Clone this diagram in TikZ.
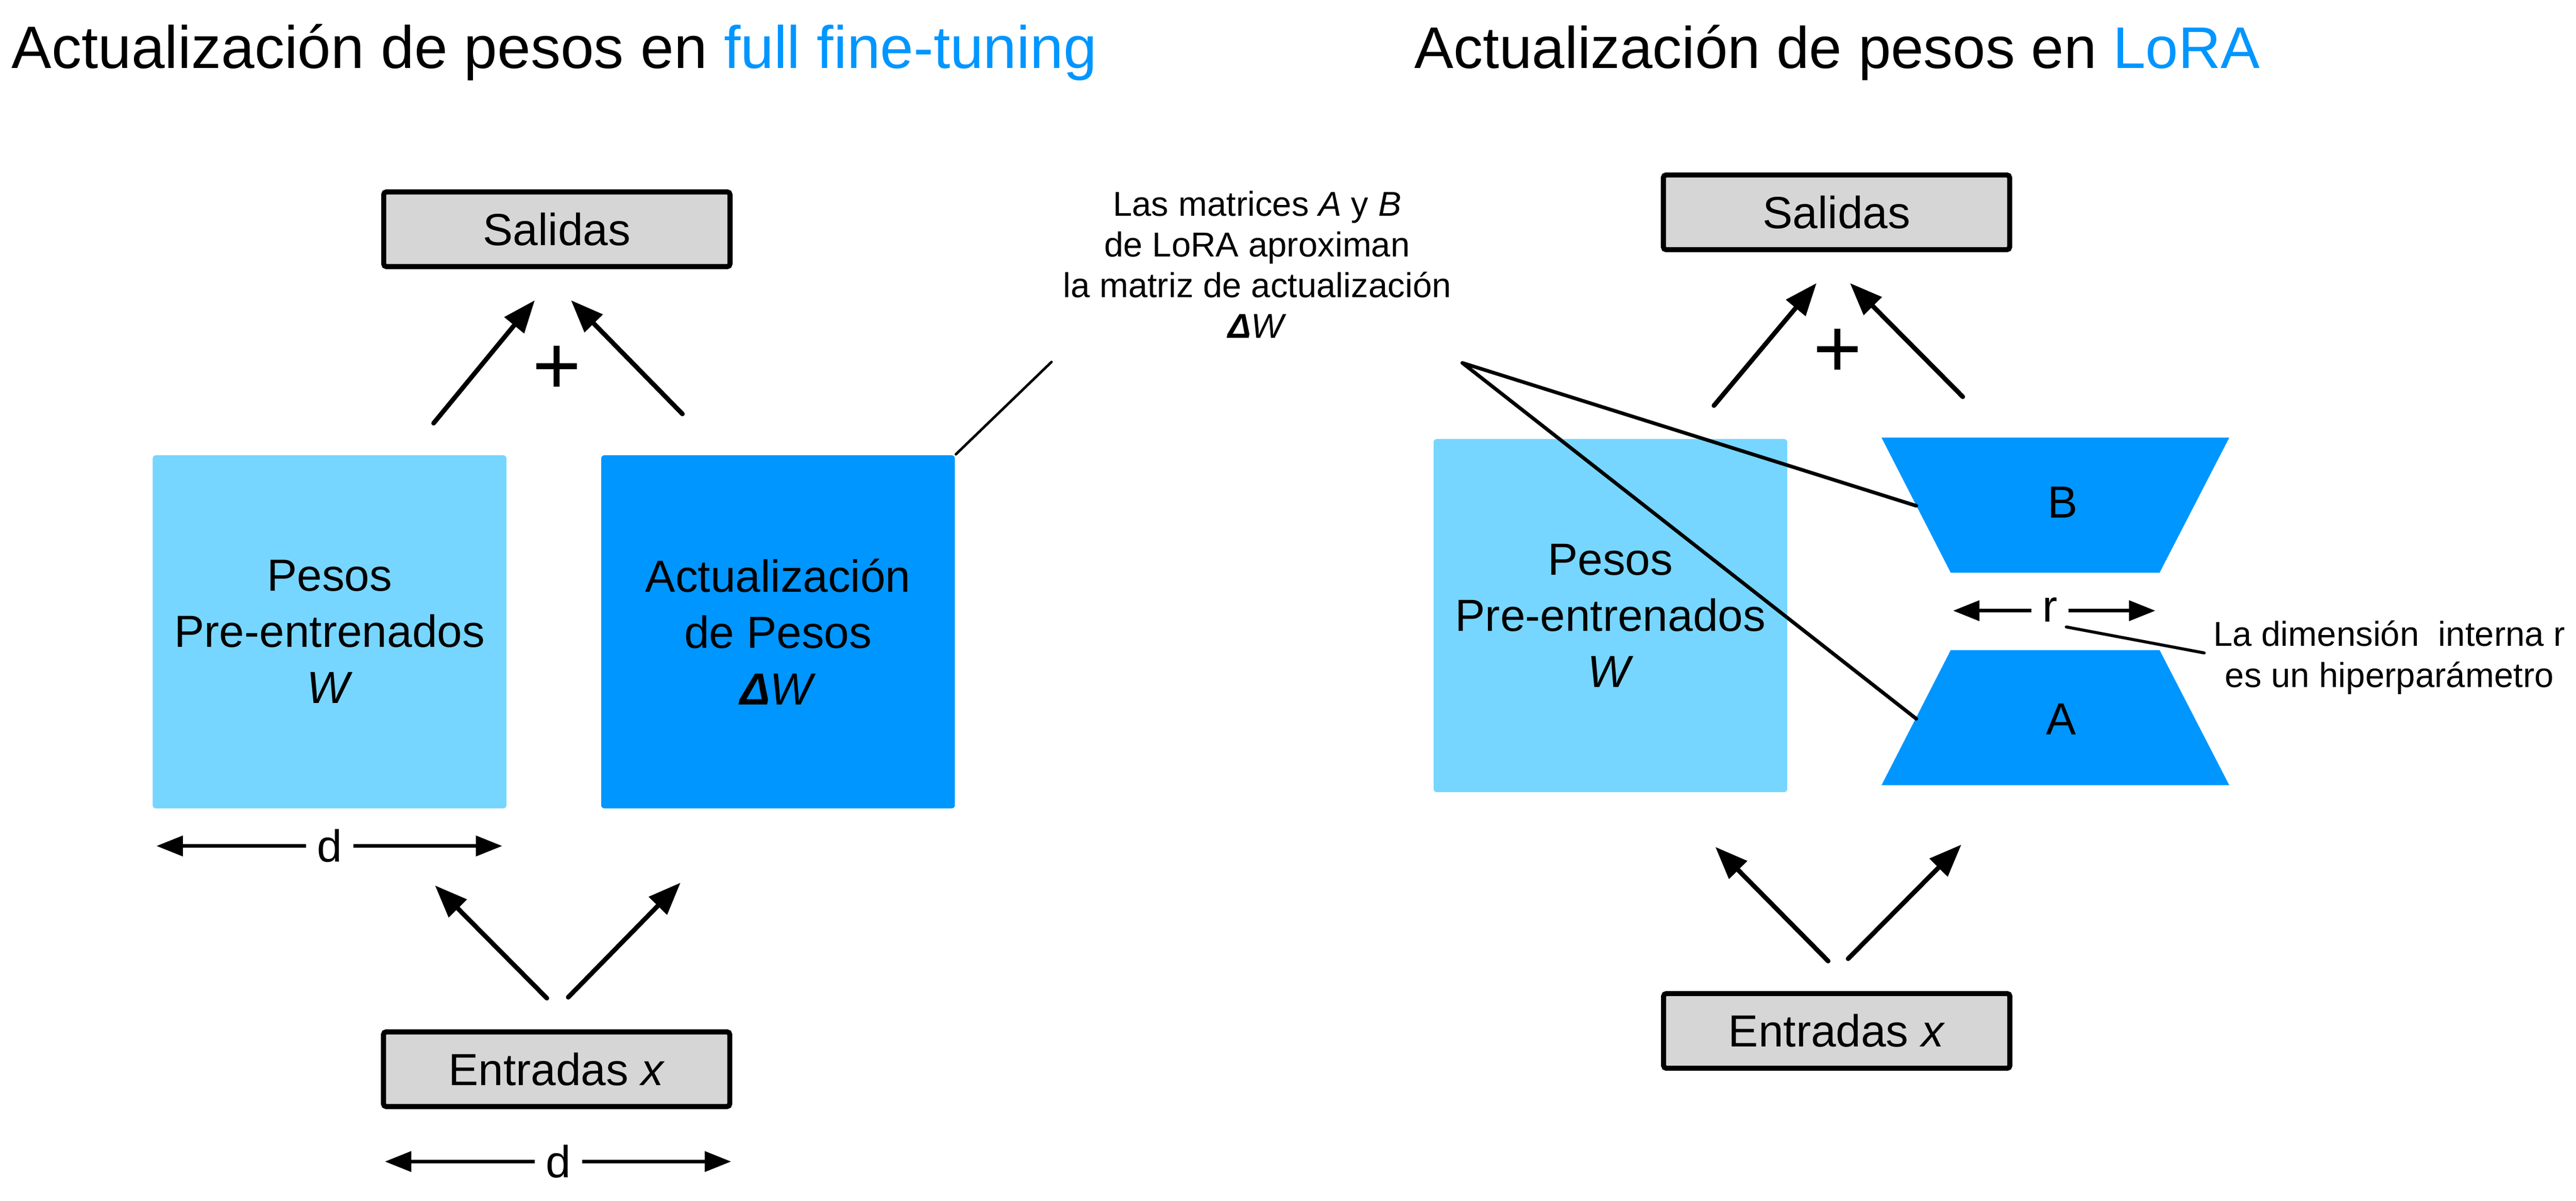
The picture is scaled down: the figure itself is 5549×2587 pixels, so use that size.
\documentclass[tikz,border=0pt]{standalone}
\usepackage{fontspec}
\setmainfont{Liberation Sans}
\usetikzlibrary{arrows.meta}
\definecolor{boxgray}{HTML}{D6D6D6}
\definecolor{skyblue}{HTML}{76D6FF}
\definecolor{aqua}{HTML}{0096FF}
\newcommand{\fsz}[2]{\fontsize{#1}{#2}\selectfont}
\begin{document}
\begin{tikzpicture}[x=0.1pt,y=-0.1pt,
  title/.style={anchor=base west,inner sep=0pt,font=\fsz{12.9}{15}},
  iobox/.style={draw=black,fill=boxgray,line width=1.1pt,rounded corners=0.6pt,minimum width=74.6pt,minimum height=16.1pt,inner sep=0pt,font=\fsz{9.7}{12}},
  wbox/.style={fill=skyblue,rounded corners=0.7pt,minimum width=76.2pt,minimum height=76.1pt,inner sep=0pt,align=center,font=\fsz{9.7}{12.1}},
  dwbox/.style={wbox,fill=aqua},
  flow/.style={-{Triangle[length=7pt,width=5.3pt]},line width=1pt,line cap=round},
  dimline/.style={-{Triangle[length=5.7pt,width=4.3pt]},line width=0.8pt},
  dimlabel/.style={inner xsep=2.2pt,inner ysep=0pt,font=\fsz{9.7}{12}},
  plus/.style={inner sep=0pt,font=\fsz{18}{18}},
  callout/.style={line width=0.6pt,line cap=round,line join=round},
  note/.style={align=center,inner sep=0pt,font=\fsz{7.45}{8.75}},
  lbl/.style={inner sep=0pt,font=\fsz{9.7}{12}},
]
\useasboundingbox (0,0) rectangle (5549,2587);

% titles
\node[title] (t1) at (23,147) {Actualización de pesos en \textcolor{aqua}{full fine-tuning}};
\node[title,font=\fsz{12.65}{15}] (t2) at (3045,147) {Actualización de pesos en \textcolor{aqua}{LoRA}};

% ---------- left panel ----------
\node[iobox] (outL) at (1199.5,494) {Salidas};
\node[wbox] (WL) at (710,1361.5) {Pesos\\Pre-entrenados\\\textit{W}};
\node[dwbox] (dWL) at (1676,1361.5) {Actualización\\de Pesos\\{\bfseries\itshape Δ}\textit{W}};
\node[iobox] (inL) at (1199,2304) {Entradas \textit{x}};
\node[plus] (plusL) at (1199,798) {+};

\coordinate (a1s) at (934,912);   \coordinate (a1e) at (1152,647);
\coordinate (a2s) at (1470,892);  \coordinate (a2e) at (1230,647);
\coordinate (a3s) at (1178,2151); \coordinate (a3e) at (937,1908);
\coordinate (a4s) at (1224,2149); \coordinate (a4e) at (1466,1902);
\draw[flow] (a1s) -- (a1e);
\draw[flow] (a2s) -- (a2e);
\draw[flow] (a3s) -- (a3e);
\draw[flow] (a4s) -- (a4e);

\node[dimlabel] (dtop) at (710,1823) {d};
\coordinate (dtopL) at (337,1823); \coordinate (dtopR) at (1082,1823);
\draw[dimline] (dtop.west) -- (dtopL);
\draw[dimline] (dtop.east) -- (dtopR);
\node[dimlabel] (dbot) at (1203,2503) {d};
\coordinate (dbotL) at (829,2503); \coordinate (dbotR) at (1575,2503);
\draw[dimline] (dbot.west) -- (dbotL);
\draw[dimline] (dbot.east) -- (dbotR);

% ---------- right panel ----------
\node[iobox] (outR) at (3956,457.5) {Salidas};
\node[wbox] (WR) at (3469,1326.5) {Pesos\\Pre-entrenados\\\textit{W}};
\node[iobox] (inR) at (3956.5,2221.5) {Entradas \textit{x}};
\node[plus] (plusR) at (3958,761) {+};

\fill[aqua] (4053,943) -- (4802,943) -- (4652,1234) -- (4202,1234) -- cycle;
\fill[aqua] (4202,1401) -- (4652,1401) -- (4802,1692) -- (4053,1692) -- cycle;
\node[lbl] (Bl) at (4443,1082) {B};
\node[lbl] (Al) at (4440,1550) {A};

\coordinate (b1s) at (3692,874);  \coordinate (b1e) at (3913,610);
\coordinate (b2s) at (4228,855);  \coordinate (b2e) at (3985,610);
\coordinate (b3s) at (3938,2071); \coordinate (b3e) at (3695,1825);
\coordinate (b4s) at (3981,2066); \coordinate (b4e) at (4225,1820);
\draw[flow] (b1s) -- (b1e);
\draw[flow] (b2s) -- (b2e);
\draw[flow] (b3s) -- (b3e);
\draw[flow] (b4s) -- (b4e);

\node[dimlabel] (rdim) at (4416,1314) {r};
\coordinate (rL) at (4207,1316); \coordinate (rR) at (4643,1316);
\draw[dimline] (rdim.west |- rL) -- (rL);
\draw[dimline] (rdim.east |- rR) -- (rR);

% ---------- callouts ----------
\node[note,anchor=north] (noteAB) at (2708,410) {Las matrices \textit{A} y \textit{B}\\de LoRA aproximan\\la matriz de actualización\\{\bfseries\itshape Δ}\textit{W}};
\coordinate (cL) at (2265,780);
\draw[callout,line width=0.55pt] (dWL.north east) -- (cL);
\coordinate (cJ) at (3150,782);
\coordinate (cB) at (4128,1090);
\coordinate (cA) at (4128,1549);
\draw[callout,line width=0.78pt] (cB) -- (cJ) -- (cA);

\node[note,anchor=north,font=\fsz{7.45}{8.9}] (noteR) at (5147,1335) {La dimensión\ \ interna r\\es un hiperparámetro};
\coordinate (cr1) at (4451,1351); \coordinate (cr2) at (4748,1407);
\draw[callout,line width=0.65pt] (cr1) -- (cr2);
\end{tikzpicture}
\end{document}
